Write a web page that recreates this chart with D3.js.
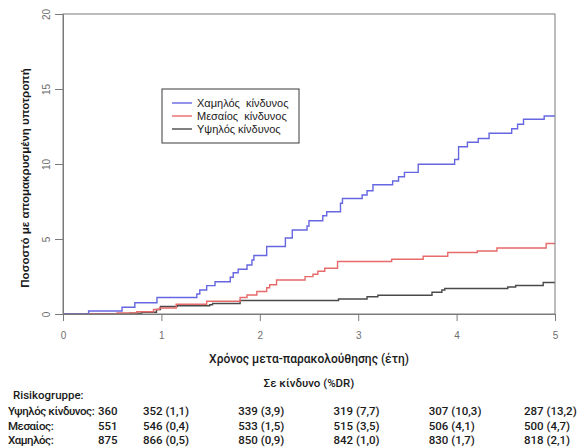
<!DOCTYPE html>
<html>
<head>
<meta charset="utf-8">
<script src="https://cdn.jsdelivr.net/npm/d3@7"></script>
<style>
  html, body { margin: 0; padding: 0; background: #fff; }
  svg { display: block; }
  .tick text { font-family: "Liberation Sans", Arial, sans-serif; font-size: 10px; fill: #6e6e6e; }
  .tick line { stroke: #7a7a7a; }
  .domain { stroke: #7a7a7a; }
</style>
</head>
<body>
<script>
// Follow-up time (years) and axis ticks
const yearTicks = [0, 1, 2, 3, 4, 5];
const pctTicks = [0, 5, 10, 15, 20];

// Cumulative incidence step curves: event times (years) and % after each step
const lowTimes  = [0.26, 0.60, 0.73, 0.955, 1.36, 1.39, 1.46, 1.545, 1.70, 1.73, 1.78, 1.87, 1.92, 1.94,
                   2.07, 2.26, 2.33, 2.48, 2.50, 2.64, 2.68, 2.82, 2.84, 3.04, 3.09, 3.15, 3.35, 3.41,
                   3.47, 3.61, 3.98, 4.02, 4.11, 4.22, 4.33, 4.56, 4.62, 4.68, 4.89];
const lowValues = [0.2, 0.45, 0.75, 1.1, 1.33, 1.6, 1.89, 2.15, 2.45, 2.75, 2.98, 3.27, 3.6, 3.9,
                   4.5, 5.07, 5.6, 5.87, 6.22, 6.55, 6.82, 7.38, 7.7, 7.93, 8.22, 8.62, 8.87, 9.15,
                   9.44, 9.98, 10.3, 11.15, 11.45, 11.7, 12.05, 12.35, 12.65, 12.98, 13.2];

const midTimes  = [0.55, 0.75, 0.92, 0.98, 1.15, 1.46, 1.80, 1.87, 1.97, 2.07, 2.10, 2.17, 2.46, 2.54,
                   2.59, 2.66, 2.79, 3.34, 3.66, 3.91, 4.21, 4.41, 4.91];
const midValues = [0.07, 0.15, 0.3, 0.4, 0.65, 0.85, 1.1, 1.27, 1.5, 1.75, 1.95, 2.27, 2.49, 2.65,
                   2.85, 3.05, 3.5, 3.65, 3.85, 4.1, 4.2, 4.4, 4.7];

const highTimes  = [0.68, 0.80, 0.95, 0.99, 1.16, 1.49, 1.52, 1.80, 2.80, 3.09, 3.20, 3.75, 3.85, 3.88,
                    4.52, 4.60, 4.88];
const highValues = [0.05, 0.12, 0.3, 0.5, 0.55, 0.62, 0.7, 0.9, 1.0, 1.15, 1.25, 1.45, 1.6, 1.7,
                    1.8, 1.9, 2.1];

const legendLabels = ["Χαμηλός  κίνδυνος", "Μεσαίος  κίνδυνος", "Υψηλός κίνδυνος"];
const seriesColors = ["#6666e2", "#e86a6a", "#4a4a4a"];

// Number at risk table
const tableTitle = "Σε κίνδυνο (%DR)";
const tableHeader = "Risikogruppe:";
const riskGroups = ["Υψηλός κίνδυνος:", "Μεσαίος:", "Χαμηλός:"];
const atRiskHigh = [360, 352, 339, 319, 307, 287];
const drHigh     = [null, 1.1, 3.9, 7.7, 10.3, 13.2];
const atRiskMid  = [551, 546, 533, 515, 506, 500];
const drMid      = [null, 0.4, 1.5, 3.5, 4.1, 4.7];
const atRiskLow  = [875, 866, 850, 842, 830, 818];
const drLow      = [null, 0.5, 0.9, 1.0, 1.7, 2.1];

const xTitle = "Χρόνος μετα-παρακολούθησης (έτη)";
const yTitle = "Ποσοστό με απομακρυσμένη υποτροπή";

const W = 579, H = 448;
const plot = { left: 63, right: 555, top: 14, bottom: 314 };

const svg = d3.select("body").append("svg").attr("width", W).attr("height", H);

const x = d3.scaleLinear().domain([0, 5]).range([plot.left, plot.right]);
const y = d3.scaleLinear().domain([0, 20]).range([plot.bottom, plot.top]);

// Curves
const series = [
  { times: lowTimes, values: lowValues },
  { times: midTimes, values: midValues },
  { times: highTimes, values: highValues }
];
const line = d3.line().x(d => x(d[0])).y(d => y(d[1])).curve(d3.curveStepAfter);
const curves = svg.append("g");
// draw black, red, blue so blue sits on top
[2, 1, 0].forEach(i => {
  const s = series[i];
  const pts = [[0, 0]].concat(s.times.map((t, k) => [t, s.values[k]]));
  pts.push([5, s.values[s.values.length - 1]]);
  curves.append("path")
    .datum(pts)
    .attr("d", line)
    .attr("fill", "none")
    .attr("stroke", seriesColors[i])
    .attr("stroke-width", 1.4);
});

// Frame
svg.append("rect")
  .attr("x", plot.left).attr("y", plot.top)
  .attr("width", plot.right - plot.left).attr("height", plot.bottom - plot.top)
  .attr("fill", "none").attr("stroke", "#7a7a7a").attr("stroke-width", 1);

// Axes
svg.append("g")
  .attr("transform", `translate(0,${plot.bottom})`)
  .call(d3.axisBottom(x).tickValues(yearTicks).tickSize(7).tickSizeOuter(0).tickPadding(11).tickFormat(d3.format("d")));

const yAxis = svg.append("g")
  .attr("transform", `translate(${plot.left},0)`)
  .call(d3.axisLeft(y).tickValues(pctTicks).tickSize(8).tickSizeOuter(0).tickFormat(d3.format("d")));
yAxis.selectAll(".tick text")
  .attr("x", null)
  .attr("text-anchor", "middle")
  .attr("transform", "translate(-17,0) rotate(-90)")
  .attr("dy", "0.35em");

// Axis titles
svg.append("text")
  .attr("transform", `translate(29,${(plot.top + plot.bottom) / 2 + 14}) rotate(-90)`)
  .attr("text-anchor", "middle")
  .attr("font-family", "Liberation Sans, Arial, sans-serif")
  .attr("font-weight", "bold")
  .attr("font-size", 11.5)
  .attr("fill", "#1a1a1a")
  .text(yTitle);

const textFont = "Roboto, Open Sans, sans-serif";

svg.append("text")
  .attr("x", 309).attr("y", 363)
  .attr("text-anchor", "middle")
  .attr("font-family", textFont)
  .attr("font-weight", 500)
  .attr("font-size", 12)
  .attr("fill", "#1a1a1a")
  .text(xTitle);

// Legend
const lg = svg.append("g");
lg.append("rect")
  .attr("x", 162).attr("y", 89).attr("width", 137).attr("height", 54)
  .attr("fill", "#fff").attr("stroke", "#3a3a3a").attr("stroke-width", 1);
legendLabels.forEach((lab, i) => {
  const yy = 103 + i * 13;
  lg.append("line")
    .attr("x1", 172).attr("x2", 192).attr("y1", yy).attr("y2", yy)
    .attr("stroke", seriesColors[i]).attr("stroke-width", 1.4);
  lg.append("text")
    .attr("x", 197).attr("y", yy).attr("dy", "0.35em")
    .attr("font-family", "Liberation Sans, Arial, sans-serif")
    .attr("font-size", 11)
    .attr("fill", "#1a1a1a")
    .style("white-space", "pre")
    .text(lab);
});

// Risk table
const fmt = v => v.toFixed(1).replace(".", ",");
const tg = svg.append("g")
  .attr("font-family", textFont)
  .attr("font-weight", 500)
  .attr("font-size", 11.5)
  .attr("fill", "#1a1a1a");

tg.append("text").attr("x", 309).attr("y", 387).attr("text-anchor", "middle").text(tableTitle);
tg.append("text").attr("x", 13).attr("y", 399).text(tableHeader);

// column layout of the table, one column per follow-up year
const col = d3.scaleLinear().domain([1, 5]).range([143, 524]);
const rows = [
  { n: atRiskHigh, dr: drHigh },
  { n: atRiskMid, dr: drMid },
  { n: atRiskLow, dr: drLow }
];
rows.forEach((r, i) => {
  const yy = 415 + i * 14.5;
  tg.append("text").attr("x", 8).attr("y", yy)
    .attr("letter-spacing", -0.45)
    .text(riskGroups[i]);
  r.n.forEach((n, k) => {
    const label = r.dr[k] == null ? String(n) : `${n} (${fmt(r.dr[k])})`;
    const xx = k === 0 ? 98 : col(yearTicks[k]);
    tg.append("text").attr("x", xx).attr("y", yy).text(label);
  });
});
</script>
</body>
</html>
